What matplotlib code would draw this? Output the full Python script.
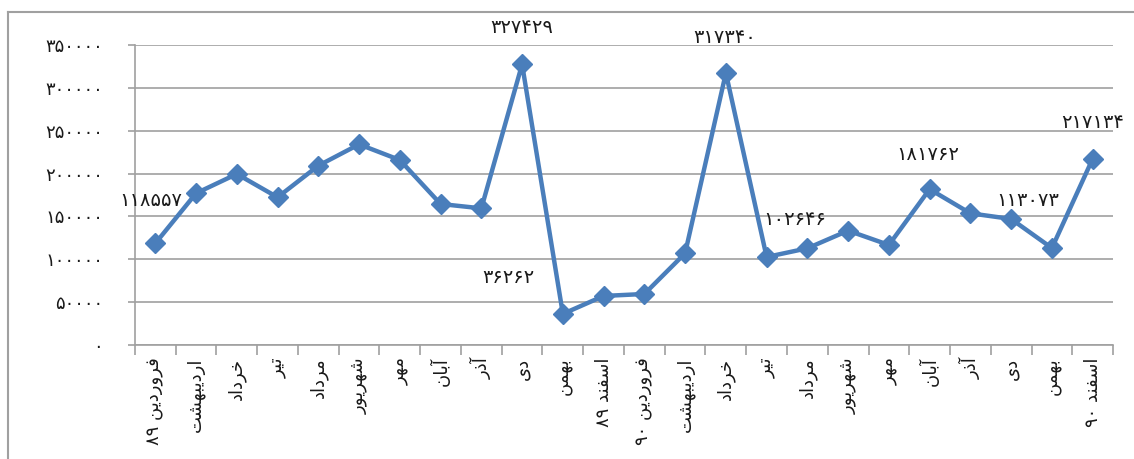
import matplotlib
matplotlib.use('Agg')
import matplotlib.pyplot as plt
from matplotlib.lines import Line2D
from matplotlib.ticker import FixedLocator

# --- DADOS ---
meses = ['فروردین ۸۹', 'اردیبهشت', 'خرداد', 'تیر', 'مرداد', 'شهریور', 'مهر', 'آبان', 'آذر', 'دی', 'بهمن', 'اسفند ۸۹',
         'فروردین ۹۰', 'اردیبهشت', 'خرداد', 'تیر', 'مرداد', 'شهریور', 'مهر', 'آبان', 'آذر', 'دی', 'بهمن', 'اسفند ۹۰']
valores = [118557, 177000, 199500, 172300, 209200, 234100, 215800, 164500, 159400, 327429, 36262, 57200,
           59500, 107000, 317340, 102646, 112800, 133400, 116700, 181762, 153600, 147000, 113073, 217134]
yticks = [0, 50000, 100000, 150000, 200000, 250000, 300000, 350000]

# rótulos de dados (texto, posição x em categorias, posição y em valores)
rotulos = [('118557', -0.11, 168000),
           ('327429', 9.0, 370000),
           ('317340', 13.96, 359000),
           ('36262', 8.67, 79000),
           ('102646', 15.68, 146000),
           ('181762', 18.96, 222000),
           ('113073', 21.41, 168000),
           ('217134', 23.0, 259000)]

# --- FORMAS ÁRABES (matplotlib não faz shaping) ---
# letra: (isolada, final, inicial, medial); None = não liga com a próxima
FORMAS = {
    'ا': ('\uFE8D', '\uFE8E', None, None),
    'آ': ('\uFE81', '\uFE82', None, None),
    'ب': ('\uFE8F', '\uFE90', '\uFE91', '\uFE92'),
    'ت': ('\uFE95', '\uFE96', '\uFE97', '\uFE98'),
    'خ': ('\uFEA5', '\uFEA6', '\uFEA7', '\uFEA8'),
    'د': ('\uFEA9', '\uFEAA', None, None),
    'ذ': ('\uFEAB', '\uFEAC', None, None),
    'ر': ('\uFEAD', '\uFEAE', None, None),
    'س': ('\uFEB1', '\uFEB2', '\uFEB3', '\uFEB4'),
    'ش': ('\uFEB5', '\uFEB6', '\uFEB7', '\uFEB8'),
    'ف': ('\uFED1', '\uFED2', '\uFED3', '\uFED4'),
    'م': ('\uFEE1', '\uFEE2', '\uFEE3', '\uFEE4'),
    'ن': ('\uFEE5', '\uFEE6', '\uFEE7', '\uFEE8'),
    'ه': ('\uFEE9', '\uFEEA', '\uFEEB', '\uFEEC'),
    'و': ('\uFEED', '\uFEEE', None, None),
    'ی': ('\uFEEF', '\uFEF0', '\uFEF3', '\uFEF4'),
}
DIGITOS = '۰۱۲۳۴۵۶۷۸۹'


def fa_num(n):
    return ''.join(DIGITOS[int(c)] for c in str(n))


def shape(texto):
    out = []
    for i, ch in enumerate(texto):
        if ch not in FORMAS:
            out.append(ch)
            continue
        ant = texto[i - 1] if i > 0 else ''
        prox = texto[i + 1] if i + 1 < len(texto) else ''
        liga_ant = ant in FORMAS and FORMAS[ant][2] is not None
        liga_prox = prox in FORMAS and FORMAS[ch][2] is not None
        iso, fin, ini, med = FORMAS[ch]
        if liga_ant and liga_prox:
            out.append(med)
        elif liga_ant:
            out.append(fin)
        elif liga_prox:
            out.append(ini)
        else:
            out.append(iso)
    # ordem visual: inverte tudo e depois desfaz a inversão dos números
    vis = ''.join(reversed(out))
    partes, atual = [], ''
    for ch in vis:
        if ch in DIGITOS:
            atual += ch
        else:
            if atual:
                partes.append(atual[::-1])
                atual = ''
            partes.append(ch)
    if atual:
        partes.append(atual[::-1])
    return ''.join(partes)


plt.rcParams['font.family'] = ['DejaVu Sans']

fig = plt.figure(figsize=(11.34, 4.59), dpi=100)
ax = fig.add_axes([0.119, 0.2484, 0.8625, 0.6536])

azul = '#4a7ebb'
cinza = '#a0a0a0'
x = list(range(len(valores)))
ax.plot(x, valores, color=azul, linewidth=3.2, marker='D', markersize=10,
        markerfacecolor=azul, markeredgecolor=azul, zorder=3)

ax.set_xlim(-0.5, len(valores) - 0.5)
ax.set_ylim(0, 350000)

ax.set_yticks(yticks)
ax.set_yticklabels([fa_num(v) for v in yticks], fontsize=13, color='#1a1a1a')
ax.yaxis.grid(True, color=cinza, linewidth=1.2)
ax.set_axisbelow(True)

ax.set_xticks(x)
ax.set_xticklabels([shape(m) for m in meses], rotation=90, fontsize=13,
                   va='top', ha='center', color='#1a1a1a')
ax.xaxis.set_minor_locator(FixedLocator([i - 0.5 for i in range(len(valores) + 1)]))
ax.tick_params(axis='x', which='major', length=0, pad=9)
ax.tick_params(axis='x', which='minor', length=7, color=cinza, width=1.2)
ax.tick_params(axis='y', length=5, color=cinza, width=1.2, pad=18)

for lado in ['top', 'right']:
    ax.spines[lado].set_visible(False)
for lado in ['left', 'bottom']:
    ax.spines[lado].set_color(cinza)
    ax.spines[lado].set_linewidth(1.2)

for texto, xr, yr in rotulos:
    ax.text(xr, yr, fa_num(texto), fontsize=14, ha='center', va='center',
            color='#1a1a1a', clip_on=False)

# moldura do gráfico (topo e esquerda)
fig.add_artist(Line2D([7.5 / 1134, 1.0], [1 - 12 / 459, 1 - 12 / 459], color=cinza, linewidth=1.5))
fig.add_artist(Line2D([7.5 / 1134, 7.5 / 1134], [0.0, 1 - 12 / 459], color=cinza, linewidth=1.5))

fig.savefig('out.png', dpi=100)
